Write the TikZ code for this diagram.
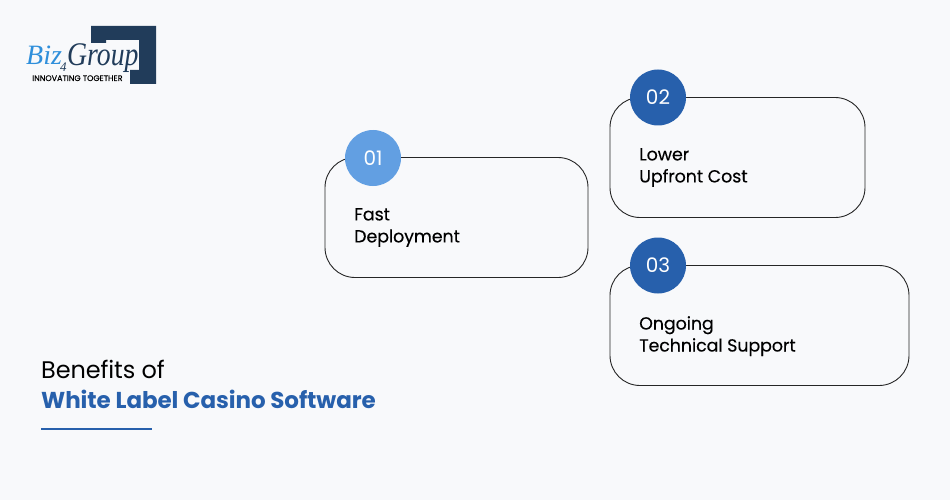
\documentclass[tikz,border=0pt]{standalone}
\usepackage{fontspec}
\usepackage{xcolor}
\setmainfont{Poppins}
\newfontfamily\logofont{Liberation Serif}
\newfontfamily\medfont[FakeBold=0.25]{Poppins}
\newfontfamily\groupfont[FakeStretch=0.84]{Liberation Serif}
\definecolor{pagebg}{HTML}{F8F9FB}
\definecolor{navy}{HTML}{213C5A}
\definecolor{bluedark}{HTML}{2760AC}
\definecolor{bluelight}{HTML}{629FE2}
\definecolor{bluelogo}{HTML}{2F8FDB}
\tikzset{
  card/.style={draw=black!85, line width=0.9pt, fill=pagebg, rounded corners=30pt},
  numdot/.style={circle, minimum size=56pt, inner sep=0pt, text=white, font=\fontsize{20}{20}\selectfont},
  cardtext/.style={anchor=north west, align=left, inner sep=0pt, text=black, font=\medfont\fontsize{17.5}{22}\selectfont\addfontfeatures{LetterSpace=-0.7}},
}
\begin{document}
\begin{tikzpicture}[x=1pt, y=-1pt]
            \fill [pagebg] (0,0) rectangle (950,500);                  %Hintergrund
            \useasboundingbox (0,0) rectangle (950,500);
            \fill [navy] (91,26) -- (156,26) -- (156,84) -- (130,84) -- (130,70) -- (139,70) -- (139,40) -- (106,40) -- (106,43) -- (91,43) -- cycle;  %Logo
            \node [inner sep=0pt, anchor=base west, text=bluelogo, font=\logofont\itshape\fontsize{28}{28}\selectfont] (bizword) at (26,65) {Biz};
            \node [inner sep=0pt, anchor=base west, text=navy, font=\logofont\itshape\fontsize{13}{13}\selectfont] (fourword) at (60,72) {4};
            \node [inner sep=0pt, anchor=base west, text=navy, font=\groupfont\itshape\fontsize{33}{33}\selectfont] (groupword) at (67,66) {Group};
            \node [inner sep=0pt, anchor=base west, text=black, font=\medfont\fontsize{8}{8}\selectfont] (tagline) at (32,81) {INNOVATING TOGETHER};
            \draw [card] (325,157.5) rectangle (588,277.5);            %Karte 1
            \draw [card] (610,97.5) rectangle (865,217.5);             %Karte 2
            \draw [card] (610,265.5) rectangle (909,385.5);            %Karte 3
            \node [numdot, fill=bluelight] (dot1) at (373,158) {01};
            \node [numdot, fill=bluedark] (dot2) at (658,97.5) {02};
            \node [numdot, fill=bluedark] (dot3) at (658,265.5) {03};
            \node [cardtext] (text1) at (354,208) {Fast\\Deployment};
            \node [cardtext] (text2) at (639,148) {Lower\\Upfront Cost};
            \node [cardtext] (text3) at (639,316) {Ongoing\\Technical Support};
            \node [inner sep=0pt, anchor=base west, text=black, font=\fontsize{24}{24}\selectfont\addfontfeatures{LetterSpace=-0.5}] (title1) at (41,378) {Benefits of};
            \node [inner sep=0pt, anchor=base west, text=bluedark, font=\fontsize{23}{23}\selectfont\bfseries\addfontfeatures{LetterSpace=-0.4}] (title2) at (41,408) {White Label Casino Software};
            \coordinate (ruleL) at (41,429);
            \coordinate (ruleR) at (152,429);
            \draw [bluedark, line width=1.3pt] (ruleL) -- (ruleR);
\end{tikzpicture}
\end{document}
